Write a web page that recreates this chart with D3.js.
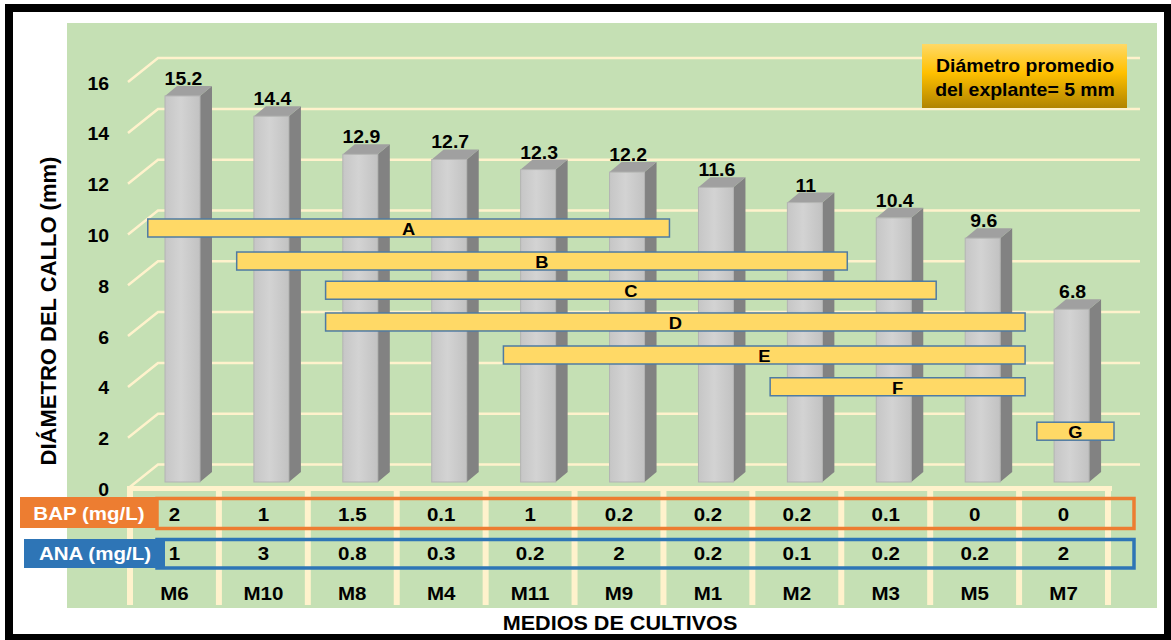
<!DOCTYPE html>
<html>
<head>
<meta charset="utf-8">
<script src="https://cdn.jsdelivr.net/npm/d3@7"></script>
<style>
  html, body { margin: 0; padding: 0; background: #fff; }
  svg { display: block; }
  text { font-family: "Liberation Sans", Arial, sans-serif; font-weight: bold; }
</style>
</head>
<body>
<svg id="chart" width="1171" height="640"></svg>
<script>
// Treatments (culture media), sorted by mean callus diameter
const categories = ["M6", "M10", "M8", "M4", "M11", "M9", "M1", "M2", "M3", "M5", "M7"];
const diameter   = [15.2, 14.4, 12.9, 12.7, 12.3, 12.2, 11.6, 11, 10.4, 9.6, 6.8];
// Growth regulator doses per medium (mg/L)
const bapDose = [2, 1, 1.5, 0.1, 1, 0.2, 0.2, 0.2, 0.1, 0, 0];
const anaDose = [1, 3, 0.8, 0.3, 0.2, 2, 0.2, 0.1, 0.2, 0.2, 2];
const yTicks  = [0, 2, 4, 6, 8, 10, 12, 14, 16];
// Mean-separation groups: letter, first and last medium covered, height on the axis (mm)
const groupLetters = ["A", "B", "C", "D", "E", "F", "G"];
const groupFirst   = ["M6", "M10", "M8", "M8", "M11", "M2", "M7"];
const groupLast    = ["M9", "M2", "M3", "M5", "M5", "M5", "M7"];
const groupLevel   = [10, 8.7, 7.55, 6.3, 5.0, 3.75, 2.0];
const noteLines = ["Diámetro promedio", "del explante= 5 mm"];

const svg = d3.select("#chart");
const SX = 1.08; // horizontal text stretch

function label(g, x, y, s, size, anchor = "middle", fill = "#000") {
  return g.append("text")
    .attr("transform", `translate(${x},${y}) scale(${SX},1)`)
    .attr("text-anchor", anchor)
    .attr("font-size", size)
    .attr("fill", fill)
    .text(s);
}

// frame
svg.append("rect").attr("x", 5).attr("y", 4).attr("width", 1166).attr("height", 636).attr("fill", "#000");
svg.append("rect").attr("x", 13).attr("y", 12).attr("width", 1151).attr("height", 622).attr("fill", "#fff");
// plot panel
svg.append("rect").attr("x", 67).attr("y", 23).attr("width", 1090).attr("height", 585).attr("fill", "#c5e0b4");

const x = d3.scaleBand().domain(categories).range([130, 1108]).padding(0);
const bw = x.bandwidth();
const y = d3.scaleLinear().domain([0, 16]).range([482, 75.6]);

const defs = svg.append("defs");
const fg = defs.append("linearGradient").attr("id", "barFront").attr("x1", 0).attr("x2", 1).attr("y1", 0).attr("y2", 0);
fg.append("stop").attr("offset", "0%").attr("stop-color", "#c6c6c6");
fg.append("stop").attr("offset", "45%").attr("stop-color", "#d3d3d3");
fg.append("stop").attr("offset", "100%").attr("stop-color", "#c2c2c2");
const ng = defs.append("linearGradient").attr("id", "noteFill").attr("x1", 0).attr("x2", 0).attr("y1", 0).attr("y2", 1);
ng.append("stop").attr("offset", "0%").attr("stop-color", "#ffd966");
ng.append("stop").attr("offset", "45%").attr("stop-color", "#ffc000");
ng.append("stop").attr("offset", "100%").attr("stop-color", "#b08400");

// 3D gridlines: back wall plus slanted side wall
const grid = svg.append("g");
grid.selectAll("path").data(yTicks).join("path")
  .attr("d", v => `M128,${y(v) + 6.5} L158,${y(v) - 17.5} L1140,${y(v) - 17.5}`)
  .attr("fill", "none").attr("stroke", "#fff2cc").attr("stroke-width", 2.5);

// y tick labels
const yAxis = svg.append("g").attr("transform", "translate(109,7)")
  .call(d3.axisLeft(y).tickValues(yTicks).tickSize(0).tickPadding(0).tickFormat(d3.format("d")));
yAxis.select(".domain").remove();
yAxis.selectAll("text").remove();
yAxis.selectAll(".tick").each(function (v) {
  label(d3.select(this), 0, 6.5, String(v), 18, "end");
});

// data-table grid
const table = svg.append("g");
table.append("line").attr("x1", 127).attr("x2", 1112).attr("y1", 488.5).attr("y2", 488.5)
  .attr("stroke", "#fff2cc").attr("stroke-width", 5);
table.selectAll("line.v").data(categories.map(c => x(c)).concat([x.range()[1]])).join("line")
  .attr("class", "v")
  .attr("x1", d => d).attr("x2", d => d).attr("y1", 486).attr("y2", 605)
  .attr("stroke", "#fff2cc").attr("stroke-width", 6);

// bars with depth
const DX = 12, DY = -10;
const bars = svg.append("g").selectAll("g").data(categories).join("g");
bars.each(function (c, i) {
  const g = d3.select(this);
  const x0 = x(c) + 35, w = 35, top = y(diameter[i]), bot = y(0);
  g.append("polygon")
    .attr("points", [[x0 + w, top], [x0 + w + DX, top + DY], [x0 + w + DX, bot + DY], [x0 + w, bot]].join(" "))
    .attr("fill", "#828282");
  g.append("polygon")
    .attr("points", [[x0, top], [x0 + DX, top + DY], [x0 + w + DX, top + DY], [x0 + w, top]].join(" "))
    .attr("fill", "#a0a0a0");
  g.append("rect").attr("x", x0).attr("y", top).attr("width", w).attr("height", bot - top)
    .attr("fill", "url(#barFront)").attr("stroke", "#b3b3b3").attr("stroke-width", 1);
  label(g, x0 + w / 2 + 1, top - 11, String(diameter[i]), 18);
});

// group letter bars
const groups = svg.append("g").selectAll("g").data(groupLetters).join("g");
groups.each(function (L, i) {
  const g = d3.select(this);
  const x1 = x(groupFirst[i]) + 0.2 * bw;
  const x2 = x(groupLast[i]) + bw + 6;
  const cy = y(groupLevel[i]);
  g.append("rect").attr("x", x1).attr("y", cy - 9).attr("width", x2 - x1).attr("height", 18)
    .attr("fill", "#ffd966").attr("stroke", "#4f7ba3").attr("stroke-width", 1.5);
  label(g, (x1 + x2) / 2, cy + 7, L, 17);
});

// note box
const note = svg.append("g");
note.append("rect").attr("x", 922).attr("y", 44).attr("width", 205).attr("height", 64).attr("fill", "url(#noteFill)");
noteLines.forEach((s, i) => label(note, 1025, 72 + i * 23.5, s, 18));

// table rows
svg.append("rect").attr("x", 157).attr("y", 498.5).attr("width", 977).attr("height", 30)
  .attr("fill", "none").attr("stroke", "#ed7d31").attr("stroke-width", 3.5);
svg.append("rect").attr("x", 157).attr("y", 539.5).attr("width", 977).attr("height", 28.5)
  .attr("fill", "none").attr("stroke", "#2e75b6").attr("stroke-width", 3.5);
svg.append("rect").attr("x", 20).attr("y", 497).attr("width", 137).attr("height", 31).attr("fill", "#ed7d31");
svg.append("rect").attr("x", 24).attr("y", 539).attr("width", 141).attr("height", 29).attr("fill", "#2e75b6");
label(svg, 89, 520, "BAP (mg/L)", 19, "middle", "#fff");
label(svg, 95, 560, "ANA (mg/L)", 19, "middle", "#fff");

const cells = svg.append("g");
categories.forEach((c, i) => {
  const cx = x(c) + bw / 2;
  label(cells, cx, 521, String(bapDose[i]), 19);
  label(cells, cx, 560, String(anaDose[i]), 19);
});

// category labels
const xAxis = svg.append("g").attr("transform", "translate(0,593)")
  .call(d3.axisBottom(x).tickSize(0).tickPadding(0));
xAxis.select(".domain").remove();
xAxis.selectAll("text").remove();
xAxis.selectAll(".tick").each(function (c) {
  label(d3.select(this), 0, 7, c, 19);
});

// axis titles
label(svg, 620, 630, "MEDIOS DE CULTIVOS", 20);
svg.append("text")
  .attr("transform", "translate(56,311) rotate(-90)")
  .attr("text-anchor", "middle").attr("font-size", 22)
  .text("DIÁMETRO DEL CALLO (mm)");
</script>
</body>
</html>
